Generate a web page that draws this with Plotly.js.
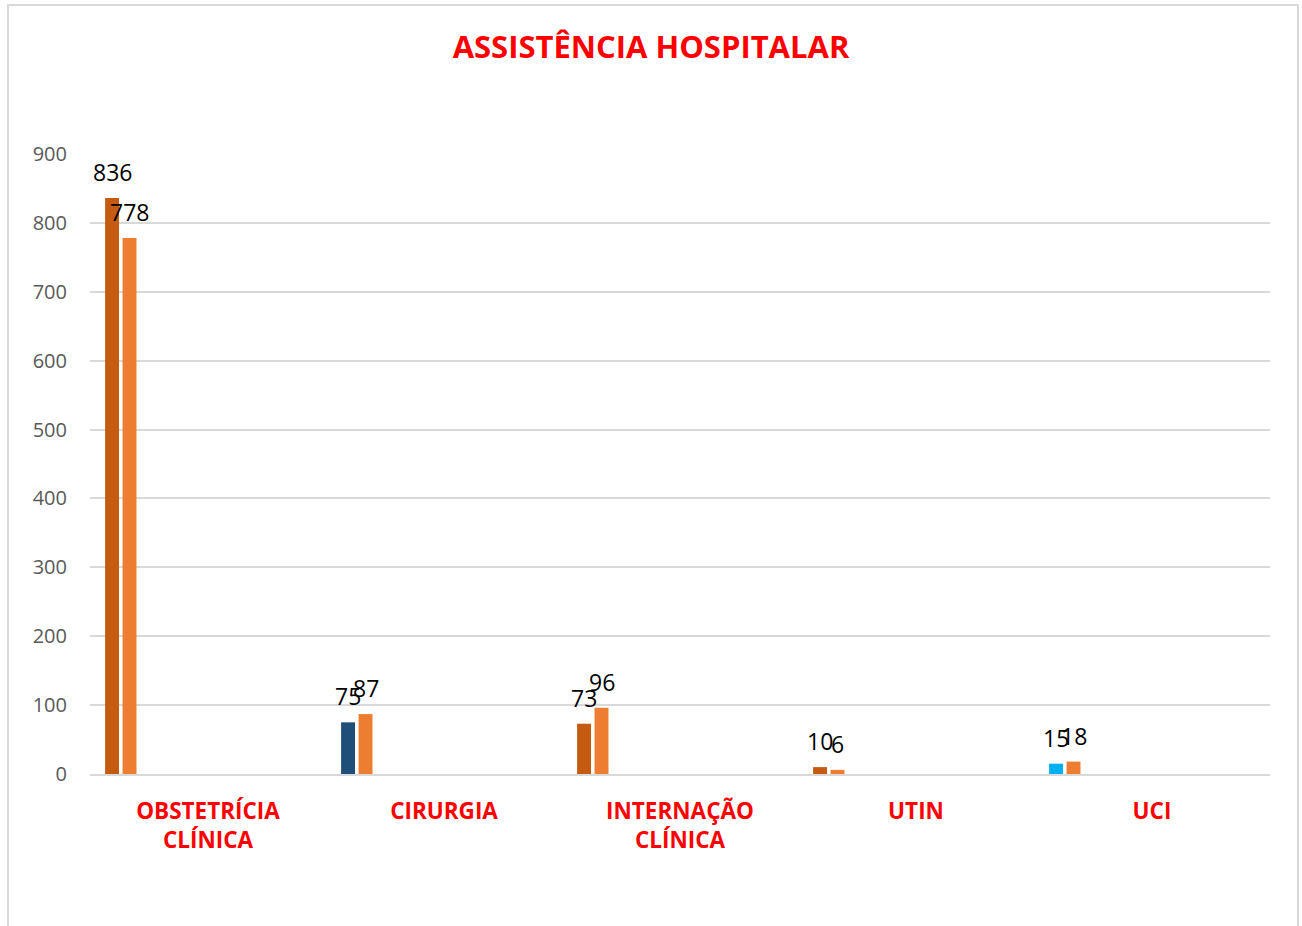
<!DOCTYPE html>
<html>
<head>
<meta charset="utf-8">
<script src="https://cdn.plot.ly/plotly-3.0.1.min.js"></script>
<style>
  body { margin: 0; background: #fff; }
  #frame { position: absolute; left: 7px; top: 4px; width: 1292px; height: 940px; border: 2px solid #d9d9d9; box-sizing: border-box; }
  #myDiv { position: absolute; left: 0; top: 0; width: 1302px; height: 926px; }
</style>
</head>
<body>
<div id="frame"></div>
<div id="myDiv"></div>
<script>
var categories = ['OBSTETRÍCIA<br>CLÍNICA', 'CIRURGIA', 'INTERNAÇÃO<br>CLÍNICA', 'UTIN', 'UCI'];
var serie1 = [836, 75, 73, 10, 15];
var serie2 = [778, 87, 96, 6, 18];
var cores1 = ['#C55A11', '#1F4E79', '#C55A11', '#C55A11', '#00B0F0'];
var cor2 = '#ED7D31';
var yTicks = [0, 100, 200, 300, 400, 500, 600, 700, 800, 900];

var larg = 0.059;
var off1 = -0.436;
var off2 = -0.362;
var slotPx = 236;

var trace1 = {
    x: categories,
    y: serie1,
    type: 'bar',
    width: larg,
    offset: off1,
    marker: { color: cores1 },
    hoverinfo: 'x+y'
};

var trace2 = {
    x: categories,
    y: serie2,
    type: 'bar',
    width: larg,
    offset: off2,
    marker: { color: cor2 },
    hoverinfo: 'x+y'
};

// rotulos de dados
var anots = [];
function rotulos(vals, off) {
    for (var i = 0; i < vals.length; i++) {
        anots.push({
            x: categories[i],
            y: vals[i],
            text: String(vals[i]),
            showarrow: false,
            xanchor: 'center',
            yanchor: 'bottom',
            xshift: (off + larg / 2) * slotPx,
            yshift: 8,
            font: { family: 'Open Sans, sans-serif', size: 23, color: '#000' }
        });
    }
}
rotulos(serie1, off1);
rotulos(serie2, off2);

var layout = {
    width: 1302,
    height: 926,
    margin: { l: 90, r: 32, t: 154, b: 152 },
    paper_bgcolor: 'rgba(0,0,0,0)',
    plot_bgcolor: 'rgba(0,0,0,0)',
    showlegend: false,
    title: {
        text: '<b>ASSISTÊNCIA HOSPITALAR</b>',
        x: 0.5,
        xref: 'container',
        xanchor: 'center',
        y: 0.949,
        yanchor: 'middle',
        font: { family: 'Open Sans, sans-serif', size: 31, color: '#FF0000' }
    },
    xaxis: {
        type: 'category',
        range: [-0.5, 4.5],
        tickvals: categories,
        ticktext: categories.map(function (c) { return '<b>' + c + '</b>'; }),
        tickfont: { family: 'Open Sans, sans-serif', size: 22.5, color: '#FF0000' },
        ticklabelstandoff: 16,
        showline: true,
        linecolor: '#d9d9d9',
        linewidth: 2,
        showgrid: false,
        ticks: ''
    },
    yaxis: {
        range: [0, 900],
        tickvals: yTicks,
        tickfont: { family: 'Open Sans, sans-serif', size: 20, color: '#595959' },
        ticklabelstandoff: 22,
        gridcolor: '#d9d9d9',
        gridwidth: 2,
        zeroline: false,
        showline: false,
        ticks: ''
    },
    annotations: anots
};

Plotly.newPlot('myDiv', [trace1, trace2], layout, { displayModeBar: false });
</script>
</body>
</html>
